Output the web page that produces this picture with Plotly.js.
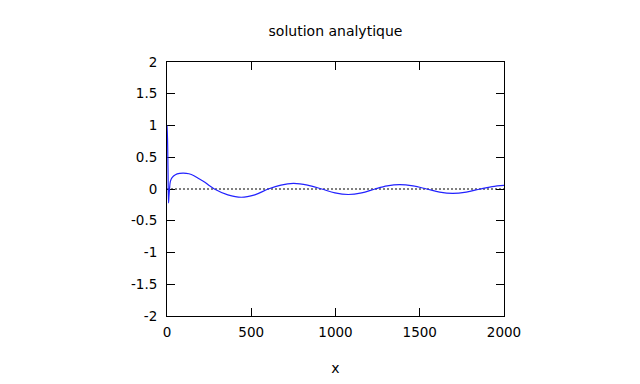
<!DOCTYPE html>
<html>
<head>
<meta charset="utf-8">
<script src="https://cdn.plot.ly/plotly-3.0.1.min.js"></script>
<style>html,body{margin:0;padding:0;background:#fff;}#chart{width:640px;height:384px;}</style>
</head>
<body>
<div id="chart"></div>
<script>
// values
const xValues = [0, 3, 6, 9, 12, 15, 20, 30, 50, 75, 97, 130, 160, 190, 220, 250, 281, 361, 441, 521, 601, 676, 750, 834, 918, 997, 1076, 1155, 1234, 1307, 1380, 1460, 1541, 1618, 1695, 1776, 1858, 1930, 2000];
const yValues = [1.0, 0.8, 0.3, -0.22, -0.1, 0.0, 0.12, 0.18, 0.225, 0.245, 0.25, 0.24, 0.21, 0.16, 0.115, 0.055, 0.0, -0.092, -0.13, -0.092, 0.0, 0.062, 0.088, 0.062, 0.0, -0.062, -0.087, -0.062, 0.0, 0.048, 0.068, 0.048, 0.0, -0.048, -0.068, -0.048, 0.0, 0.038, 0.057];
const zeroX = [0, 2000];
const zeroY = [0, 0];
const xTicks = [0, 500, 1000, 1500, 2000];
const yTicks = [-2, -1.5, -1, -0.5, 0, 0.5, 1, 1.5, 2];
const yTickText = ['-2', '-1.5', '-1', '-0.5', '0', '0.5', '1', '1.5', '2'];

const font = {family: 'DejaVu Sans', size: 13.5, color: '#000'};
const titleFont = {family: 'DejaVu Sans', size: 14, color: '#000'};

const traces = [
  {x: zeroX, y: zeroY, mode: 'lines', line: {color: '#000', width: 1, dash: '2px,2px'}, hoverinfo: 'skip'},
  {x: xValues, y: yValues, mode: 'lines', line: {color: '#2222ff', width: 1.2, shape: 'spline', smoothing: 1}}
];

const layout = {
  width: 640, height: 384,
  margin: {l: 167, r: 136, t: 62, b: 68},
  paper_bgcolor: '#fff', plot_bgcolor: '#fff',
  showlegend: false,
  font: font,
  title: {text: 'solution analytique', font: titleFont, x: 0.5, xref: 'paper', y: 0.92, yref: 'container', yanchor: 'middle'},
  xaxis: {
    range: [0, 2000], tickvals: xTicks, ticktext: xTicks.map(String),
    ticks: 'inside', ticklen: 8, tickcolor: '#000', tickwidth: 1,
    showline: true, linecolor: '#000', linewidth: 1, mirror: 'ticks',
    showgrid: false, zeroline: false, tickfont: font, ticklabelstandoff: 4,
    title: {text: 'x', font: titleFont, standoff: 23}
  },
  yaxis: {
    range: [-2, 2], tickvals: yTicks, ticktext: yTickText,
    ticks: 'inside', ticklen: 8, tickcolor: '#000', tickwidth: 1,
    showline: true, linecolor: '#000', linewidth: 1, mirror: 'ticks',
    showgrid: false, zeroline: false, tickfont: font, ticklabelstandoff: 6,
    layer: 'below traces'
  }
};

Plotly.newPlot('chart', traces, layout, {staticPlot: true, displayModeBar: false});
</script>
</body>
</html>
